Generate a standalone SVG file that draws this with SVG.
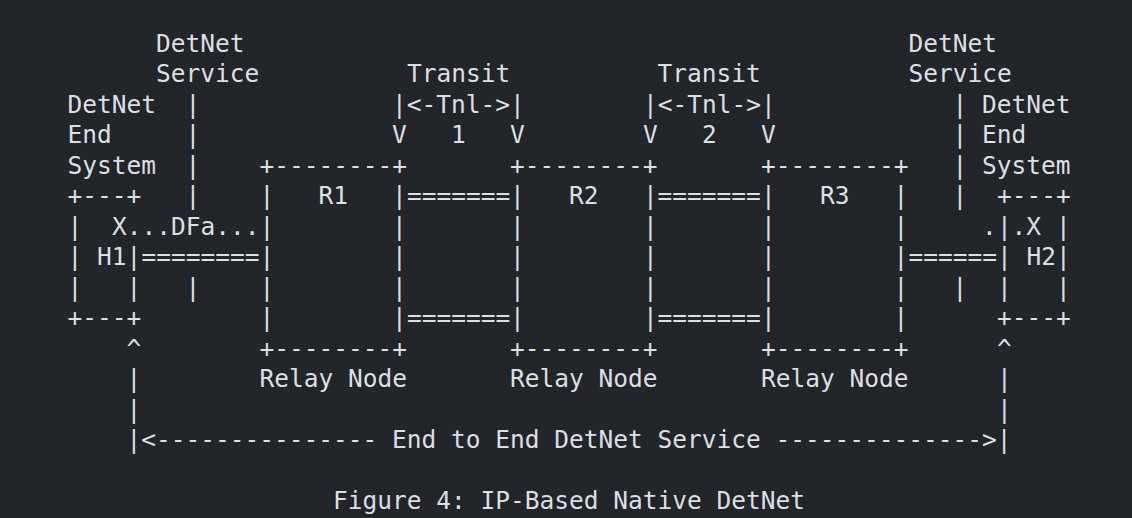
<svg xmlns="http://www.w3.org/2000/svg" width="1132" height="518" viewBox="0 0 1132 518">
<style>
text{font-family:"DejaVu Sans Mono","Liberation Mono",monospace;font-size:24.5px;fill:#dcdfe4;white-space:pre}
</style>
<rect x="0" y="0" width="1132" height="518" fill="#22252a"/>
<g id="labels">
<text x="156.1" y="51.7">DetNet</text>
<text x="156.1" y="82.2">Service</text>
<text x="908.4" y="51.7">DetNet</text>
<text x="908.4" y="82.2">Service</text>
<text x="406.9" y="82.2">Transit</text>
<text x="657.6" y="82.2">Transit</text>
<text x="67.6" y="112.7">DetNet</text>
<text x="67.6" y="143.2">End</text>
<text x="67.6" y="173.7">System</text>
<text x="982.1" y="112.7">DetNet</text>
<text x="982.1" y="143.2">End</text>
<text x="982.1" y="173.7">System</text>
<text x="259.4" y="387.2">Relay Node</text>
<text x="510.1" y="387.2">Relay Node</text>
<text x="760.9" y="387.2">Relay Node</text>
<text x="392.1" y="448.2">End to End DetNet Service</text>
<text x="333.1" y="509.2">Figure 4: IP-Based Native DetNet</text>
</g>
<g id="H1">
<text x="67.6" y="204.2">+---+</text>
<text x="67.6" y="234.7">|</text>
<text x="67.6" y="265.2">|</text>
<text x="97.1" y="265.2">H1</text>
<text x="126.6" y="265.2">|</text>
<text x="67.6" y="295.7">|</text>
<text x="126.6" y="295.7">|</text>
<text x="67.6" y="326.2">+---+</text>
</g>
<g id="R1">
<text x="259.4" y="173.7">+--------+</text>
<text x="259.4" y="204.2">|</text><text x="392.1" y="204.2">|</text>
<text x="318.4" y="204.2">R1</text>
<text x="259.4" y="234.7">|</text><text x="392.1" y="234.7">|</text>
<text x="259.4" y="265.2">|</text><text x="392.1" y="265.2">|</text>
<text x="259.4" y="295.7">|</text><text x="392.1" y="295.7">|</text>
<text x="259.4" y="326.2">|</text><text x="392.1" y="326.2">|</text>
<text x="259.4" y="356.7">+--------+</text>
</g>
<g id="R2">
<text x="510.1" y="173.7">+--------+</text>
<text x="510.1" y="204.2">|</text><text x="642.9" y="204.2">|</text>
<text x="569.1" y="204.2">R2</text>
<text x="510.1" y="234.7">|</text><text x="642.9" y="234.7">|</text>
<text x="510.1" y="265.2">|</text><text x="642.9" y="265.2">|</text>
<text x="510.1" y="295.7">|</text><text x="642.9" y="295.7">|</text>
<text x="510.1" y="326.2">|</text><text x="642.9" y="326.2">|</text>
<text x="510.1" y="356.7">+--------+</text>
</g>
<g id="R3">
<text x="760.9" y="173.7">+--------+</text>
<text x="760.9" y="204.2">|</text><text x="893.6" y="204.2">|</text>
<text x="819.9" y="204.2">R3</text>
<text x="760.9" y="234.7">|</text><text x="893.6" y="234.7">|</text>
<text x="760.9" y="265.2">|</text><text x="893.6" y="265.2">|</text>
<text x="760.9" y="295.7">|</text><text x="893.6" y="295.7">|</text>
<text x="760.9" y="326.2">|</text><text x="893.6" y="326.2">|</text>
<text x="760.9" y="356.7">+--------+</text>
</g>
<g id="H2">
<text x="996.9" y="204.2">+---+</text>
<text x="996.9" y="234.7">|</text><text x="1055.9" y="234.7">|</text>
<text x="996.9" y="265.2">|</text><text x="1026.4" y="265.2">H2</text><text x="1055.9" y="265.2">|</text>
<text x="996.9" y="295.7">|</text><text x="1055.9" y="295.7">|</text>
<text x="996.9" y="326.2">+---+</text>
</g>
<g id="connectors">
<text x="185.6" y="112.7">|</text>
<text x="185.6" y="143.2">|</text>
<text x="185.6" y="173.7">|</text>
<text x="185.6" y="204.2">|</text>
<text x="185.6" y="295.7">|</text>
<text x="952.6" y="112.7">|</text>
<text x="952.6" y="143.2">|</text>
<text x="952.6" y="173.7">|</text>
<text x="952.6" y="204.2">|</text>
<text x="952.6" y="295.7">|</text>
<text x="392.1" y="112.7">|&lt;-Tnl-&gt;|</text>
<text x="392.1" y="143.2">V</text><text x="451.1" y="143.2">1</text><text x="510.1" y="143.2">V</text>
<text x="642.9" y="112.7">|&lt;-Tnl-&gt;|</text>
<text x="642.9" y="143.2">V</text><text x="701.9" y="143.2">2</text><text x="760.9" y="143.2">V</text>
<text x="406.9" y="204.2">=======</text>
<text x="406.9" y="326.2">=======</text>
<text x="657.6" y="204.2">=======</text>
<text x="657.6" y="326.2">=======</text>
<text x="111.9" y="234.7">X...DFa...</text>
<text x="141.4" y="265.2">========</text>
<text x="908.4" y="265.2">======</text>
<text x="982.1" y="234.7">.</text>
<text x="1011.6" y="234.7">.X</text>
<text x="126.6" y="356.7">^</text>
<text x="126.6" y="387.2">|</text>
<text x="126.6" y="417.7">|</text>
<text x="126.6" y="448.2">|&lt;---------------</text>
<text x="775.6" y="448.2">--------------&gt;|</text>
<text x="996.9" y="356.7">^</text>
<text x="996.9" y="387.2">|</text>
<text x="996.9" y="417.7">|</text>
</g>
</svg>
